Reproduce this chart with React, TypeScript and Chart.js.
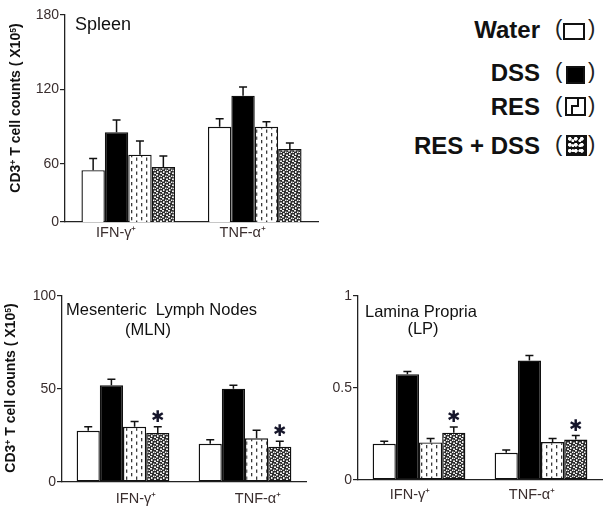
import React, { useEffect, useRef } from 'react';
import { Chart, registerables } from 'chart.js';

Chart.register(...registerables);

// ---------- data ----------
const categories = ['IFN-γ⁺', 'TNF-α⁺'];
const groupNames = ['Water', 'DSS', 'RES', 'RES + DSS'];

// Spleen (broken axis: lowest tick is labelled "0")
const spleenAxisMin = 13.3;
const spleenTickValues = [spleenAxisMin, 60, 120, 180];
const spleenTickLabels = ['0', '60', '120', '180'];
const spleenWater = [55, 90];
const spleenWaterErr = [9.5, 6.5];
const spleenDSS = [85.5, 115];
const spleenDSSErr = [10, 7];
const spleenRES = [67.5, 90];
const spleenRESErr = [11, 4];
const spleenResDss = [57.5, 72];
const spleenResDssErr = [9, 5];

// Mesenteric lymph nodes
const mlnWater = [27.5, 20.5];
const mlnWaterErr = [2.2, 2.2];
const mlnDSS = [52, 50.2];
const mlnDSSErr = [3.2, 1.8];
const mlnRES = [29.7, 23.5];
const mlnRESErr = [2.8, 4.3];
const mlnResDss = [26.3, 19];
const mlnResDssErr = [3.4, 2.9];
const mlnResDssStars = [true, true];

// Lamina propria
const lpWater = [0.197, 0.148];
const lpWaterErr = [0.013, 0.015];
const lpDSS = [0.575, 0.649];
const lpDSSErr = [0.015, 0.027];
const lpRES = [0.204, 0.206];
const lpRESErr = [0.022, 0.02];
const lpResDss = [0.257, 0.22];
const lpResDssErr = [0.031, 0.022];
const lpResDssStars = [true, true];

const FONT = '"Liberation Sans", Arial, sans-serif';

// ---------- patterns ----------
function dashPattern() {
  const c = document.createElement('canvas');
  c.width = 10;
  c.height = 7;
  const g = c.getContext('2d')!;
  g.fillStyle = '#fff';
  g.fillRect(0, 0, 10, 7);
  g.fillStyle = '#3a3a3a';
  g.fillRect(1, 0, 1.3, 3.3);
  g.fillRect(6, 3.5, 1.3, 3.3);
  return g.createPattern(c, 'repeat')!;
}
function dotPattern() {
  const c = document.createElement('canvas');
  c.width = 6;
  c.height = 6;
  const g = c.getContext('2d')!;
  g.fillStyle = '#2e2e2e';
  g.fillRect(0, 0, 6, 6);
  g.fillStyle = '#f4f4f4';
  g.fillRect(0, 0, 2, 1.5);
  g.fillRect(3, 1.5, 1.5, 1.5);
  g.fillRect(1, 3, 1.5, 2);
  g.fillRect(4, 4.5, 2, 1.5);
  g.fillRect(5, 2, 1, 1);
  return g.createPattern(c, 'repeat')!;
}

const errorBarPlugin = {
  id: 'errorBars',
  afterDatasetsDraw(chart: any) {
    const ctx = chart.ctx;
    const ys = chart.scales.y;
    chart.data.datasets.forEach((ds: any, i: number) => {
      const meta = chart.getDatasetMeta(i);
      meta.data.forEach((bar: any, j: number) => {
        const v = ds.data[j];
        const e = ds.errors ? ds.errors[j] : 0;
        const top = ys.getPixelForValue(v + e);
        ctx.save();
        ctx.strokeStyle = '#111';
        ctx.lineWidth = 1.5;
        ctx.beginPath();
        ctx.moveTo(bar.x, bar.y);
        ctx.lineTo(bar.x, top);
        ctx.moveTo(bar.x - 4, top);
        ctx.lineTo(bar.x + 4, top);
        ctx.stroke();
        if (ds.stars && ds.stars[j]) {
          ctx.fillStyle = '#15152a';
          ctx.font = 'bold 16px "DejaVu Sans"';
          ctx.textAlign = 'center';
          ctx.textBaseline = 'middle';
          ctx.fillText('✱', bar.x, top - 9);
        }
        ctx.restore();
      });
    });
  },
};

type PanelProps = {
  left: number;
  top: number;
  width: number;
  height: number;
  series: number[][];
  errors: number[][];
  stars: (boolean[] | null)[];
  yMin: number;
  yMax: number;
  tickValues: number[];
  tickLabels: string[];
  yWidth: number;
  padTop: number;
  padRight: number;
  xHeight: number;
  xPad: number;
  labelOffset: number;
  catPct: number;
};

function Panel(p: PanelProps) {
  const ref = useRef<HTMLCanvasElement>(null);
  useEffect(() => {
    const fills: any[] = ['#ffffff', '#000000', dashPattern(), dotPattern()];
    const chart = new Chart(ref.current!, {
      type: 'bar',
      data: {
        labels: categories,
        datasets: p.series.map((vals, i) => ({
          label: groupNames[i],
          data: vals,
          errors: p.errors[i],
          stars: p.stars[i],
          backgroundColor: fills[i],
          borderColor: '#111',
          borderWidth: 1.4,
          borderSkipped: false,
          barPercentage: 1,
          categoryPercentage: p.catPct,
        })) as any,
      },
      options: {
        responsive: false,
        animation: false,
        devicePixelRatio: 1,
        events: [],
        layout: {
          autoPadding: false,
          padding: { top: p.padTop, right: p.padRight, left: 0, bottom: 0 },
        },
        plugins: { legend: { display: false }, tooltip: { enabled: false } },
        scales: {
          x: {
            type: 'category',
            grid: { display: false, drawTicks: false },
            border: { display: true, color: '#222', width: 1.3 },
            ticks: {
              color: '#3a2e2e',
              font: { family: FONT, size: 14.5 },
              padding: p.xPad,
              labelOffset: p.labelOffset,
              maxRotation: 0,
            },
            afterFit: (s: any) => {
              s.height = p.xHeight;
            },
          },
          y: {
            type: 'linear',
            min: p.yMin,
            max: p.yMax,
            grid: {
              display: true,
              drawOnChartArea: false,
              drawTicks: true,
              tickLength: 5,
              color: '#222',
              lineWidth: 1.2,
            },
            border: { display: true, color: '#222', width: 1.3 },
            ticks: {
              color: '#3a2e2e',
              font: { family: FONT, size: 14 },
              padding: 1,
              callback: (_v: any, i: number) => p.tickLabels[i],
            },
            afterBuildTicks: (s: any) => {
              s.ticks = p.tickValues.map((v) => ({ value: v }));
            },
            afterFit: (s: any) => {
              s.width = p.yWidth;
            },
          },
        },
      } as any,
      plugins: [errorBarPlugin],
    });
    return () => chart.destroy();
  }, []);
  return (
    <canvas
      ref={ref}
      width={p.width}
      height={p.height}
      style={{ position: 'absolute', left: p.left, top: p.top, width: p.width, height: p.height }}
    />
  );
}

function Sup({ children }: { children: React.ReactNode }) {
  return (
    <span style={{ fontSize: '0.62em', position: 'relative', top: '-0.5em' }}>{children}</span>
  );
}

function YTitle({ cx, cy }: { cx: number; cy: number }) {
  return (
    <div
      style={{
        position: 'absolute',
        left: cx,
        top: cy,
        transform: 'translate(-50%, -50%) rotate(-90deg)',
        whiteSpace: 'nowrap',
        font: `bold 14px ${FONT}`,
        lineHeight: '14px',
        color: '#111',
      }}
    >
      CD3<Sup>+</Sup> T cell counts ( X10<Sup>5</Sup>)
    </div>
  );
}

function Txt(props: { x: number; y: number; size: number; children: React.ReactNode; center?: boolean; bold?: boolean; right?: boolean }) {
  const st: any = {
    position: 'absolute',
    top: props.y,
    font: `${props.bold ? 'bold ' : ''}${props.size}px ${FONT}`,
    lineHeight: 1,
    whiteSpace: 'pre',
    color: '#111',
  };
  if (props.right) {
    st.right = 610 - props.x;
  } else {
    st.left = props.x;
    if (props.center) st.transform = 'translateX(-50%)';
  }
  return <div style={st}>{props.children}</div>;
}

function Swatch({ kind, cy }: { kind: number; cy: number }) {
  const boxes = [
    { left: 563, top: 23, w: 22, h: 17 },
    { left: 566, top: 66, w: 19, h: 18 },
    { left: 565, top: 97, w: 21, h: 19 },
    { left: 566, top: 135, w: 21, h: 21 },
  ];
  const b = boxes[kind];
  const base: any = {
    position: 'absolute',
    left: b.left,
    top: b.top,
    width: b.w,
    height: b.h,
    boxSizing: 'border-box',
    border: '2px solid #111',
    background: '#fff',
  };
  if (kind === 1) base.background = '#000';
  if (kind === 3) {
    base.background =
      'radial-gradient(circle at 30% 30%, #fff 1.6px, transparent 2.2px) 0 0 / 6px 6px, radial-gradient(circle at 70% 75%, #fff 1.2px, transparent 1.8px) 0 0 / 7px 5px, #111';
  }
  return (
    <>
      <div style={{ position: 'absolute', left: 555, top: cy - 13, font: `22px ${FONT}`, lineHeight: 1, color: '#222' }}>(</div>
      <div style={base}>
        {kind === 2 && (
          <>
            <div style={{ position: 'absolute', left: 10, top: 0, width: 2, height: 7, background: '#111' }} />
            <div style={{ position: 'absolute', left: 4, top: 6, width: 8, height: 2, background: '#111' }} />
            <div style={{ position: 'absolute', left: 4, top: 6, width: 2, height: 9, background: '#111' }} />
          </>
        )}
      </div>
      <div style={{ position: 'absolute', left: 588, top: cy - 13, font: `22px ${FONT}`, lineHeight: 1, color: '#222' }}>)</div>
    </>
  );
}

export default function App() {
  const legendCenters = [30, 73, 107, 146];
  return (
    <div
      style={{
        position: 'absolute',
        left: 0,
        top: 0,
        width: 610,
        height: 513,
        background: '#fff',
        overflow: 'hidden',
        fontFamily: FONT,
      }}
    >
      <Panel
        left={0}
        top={0}
        width={325}
        height={250}
        series={[spleenWater, spleenDSS, spleenRES, spleenResDss]}
        errors={[spleenWaterErr, spleenDSSErr, spleenRESErr, spleenResDssErr]}
        stars={[null, null, null, null]}
        yMin={spleenAxisMin}
        yMax={180}
        tickValues={spleenTickValues}
        tickLabels={spleenTickLabels}
        yWidth={65}
        padTop={15}
        padRight={7}
        xHeight={28}
        xPad={2}
        labelOffset={-12}
        catPct={0.74}
      />
      <Panel
        left={0}
        top={270}
        width={310}
        height={243}
        series={[mlnWater, mlnDSS, mlnRES, mlnResDss]}
        errors={[mlnWaterErr, mlnDSSErr, mlnRESErr, mlnResDssErr]}
        stars={[null, null, null, mlnResDssStars]}
        yMin={0}
        yMax={100}
        tickValues={[0, 50, 100]}
        tickLabels={['0', '50', '100']}
        yWidth={62}
        padTop={26}
        padRight={4}
        xHeight={31}
        xPad={8}
        labelOffset={13}
        catPct={0.76}
      />
      <Panel
        left={305}
        top={270}
        width={305}
        height={243}
        series={[lpWater, lpDSS, lpRES, lpResDss]}
        errors={[lpWaterErr, lpDSSErr, lpRESErr, lpResDssErr]}
        stars={[null, null, null, lpResDssStars]}
        yMin={0}
        yMax={1}
        tickValues={[0, 0.5, 1]}
        tickLabels={['0', '0.5', '1']}
        yWidth={53}
        padTop={26}
        padRight={8}
        xHeight={33}
        xPad={6}
        labelOffset={-9}
        catPct={0.76}
      />

      <YTitle cx={16} cy={108} />
      <YTitle cx={11} cy={388} />

      <Txt x={75} y={14.5} size={18}>Spleen</Txt>
      <Txt x={66} y={301} size={16.5}>{'Mesenteric  Lymph Nodes'}</Txt>
      <Txt x={148} y={321} size={16.5} center>(MLN)</Txt>
      <Txt x={365} y={303} size={16.5}>Lamina Propria</Txt>
      <Txt x={423} y={320} size={16.5} center>(LP)</Txt>

      {groupNames.map((g, i) => (
        <React.Fragment key={g}>
          <Txt x={540} y={legendCenters[i] - 11.7} size={24} bold right>
            {g}
          </Txt>
          <Swatch kind={i} cy={legendCenters[i]} />
        </React.Fragment>
      ))}
    </div>
  );
}
